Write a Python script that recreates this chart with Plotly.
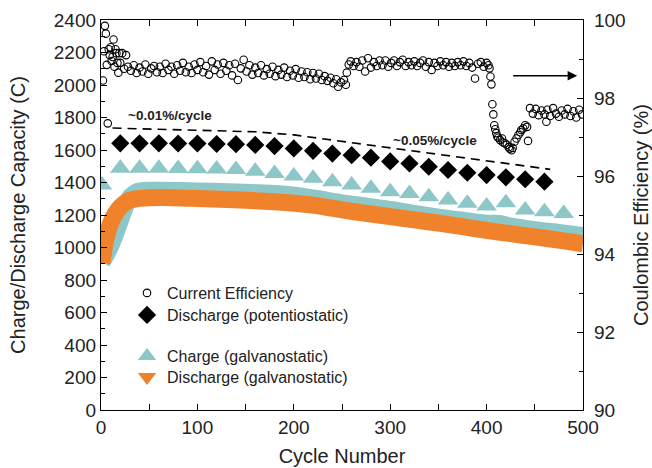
import plotly.graph_objects as go

# ---------------- data ----------------
# Coulombic (current) efficiency, % (right axis)
eff_cycles = [2, 3, 4, 5, 6, 7, 8, 9, 10, 11, 12, 13, 14, 15, 16, 17, 18, 19, 20, 22, 24, 26, 28,
              31, 34, 37, 40, 43, 46, 49, 52, 55, 58, 61, 64, 67, 70, 73, 76, 79, 82, 85, 88, 91, 94,
              97, 100, 103, 106, 109, 112, 115, 118, 121, 124, 127, 130, 133, 136, 139, 142, 145, 148,
              151, 154, 157, 160, 163, 166, 169, 172, 175, 178, 181, 184, 187, 190, 193, 196, 199, 202,
              205, 208, 211, 214, 217, 220, 223, 226, 229,
              232, 235, 238, 241, 244, 246, 249, 252, 254, 255, 257,
              259, 262, 265, 268, 271, 274, 277, 280, 283, 286, 289, 292, 295, 298, 301, 304, 307, 310,
              313, 316, 319, 322, 325, 328, 331, 334, 337, 340, 343, 346, 349, 352, 355, 358, 361, 364,
              367, 370, 373, 376, 379, 382, 385, 388, 391, 394, 397, 400,
              402, 403, 404, 405, 406, 407, 408, 409, 410, 411, 412, 414, 416, 417, 419, 421, 423, 424,
              426, 427, 429, 431, 433, 435, 436, 438, 440, 442, 443,
              445, 448, 451, 454, 457, 460, 462, 463, 466, 469, 472, 475, 478, 481, 484, 487, 490, 493,
              496, 499]
eff_values = [98.45, 99.20, 99.85, 99.65, 98.85, 97.35, 99.25, 99.10, 99.30, 98.95, 99.05, 99.50, 98.80,
              99.25, 99.15, 98.90, 98.65, 99.15, 98.90, 99.15, 98.75, 99.10, 98.80,
              98.70, 98.84, 98.64, 98.78, 98.68, 98.86, 98.62, 98.76, 98.82, 98.66, 98.80, 98.64, 98.88,
              98.72, 98.80, 98.62, 98.84, 98.70, 98.90, 98.66, 98.80, 98.64, 98.86, 98.72, 98.92, 98.66,
              98.82, 98.60, 98.94, 98.72, 98.86, 98.62, 98.90, 98.70, 98.84, 98.58, 98.88, 98.46, 98.76,
              98.98, 98.68, 98.84, 98.60, 98.78, 98.64, 98.84, 98.58, 98.74, 98.62, 98.80, 98.56, 98.72,
              98.60, 98.78, 98.54, 98.70, 98.58, 98.74, 98.52, 98.68, 98.54, 98.66, 98.48, 98.64, 98.50,
              98.62, 98.46,
              98.56, 98.44, 98.52, 98.38, 98.48, 98.29, 98.40, 98.46, 98.34, 98.65, 98.86,
              98.94, 98.82, 98.92, 98.80, 98.96, 98.68, 99.02, 98.78, 98.92, 98.82, 98.96, 98.84, 98.96,
              98.80, 98.90, 98.96, 98.82, 98.92, 98.98, 98.82, 98.92, 98.84, 98.94, 98.82, 98.90, 98.96,
              98.80, 98.92, 98.72, 98.90, 98.82, 98.94, 98.84, 98.92, 98.80, 98.90, 98.82, 98.92, 98.84,
              98.94, 98.82, 98.90, 98.78, 98.50, 98.88, 98.92, 98.80, 98.90,
              98.84, 98.76, 98.55, 98.35, 97.84, 97.58, 97.30, 97.20, 97.10, 97.02, 96.98, 96.92, 96.96,
              96.86, 96.84, 96.80, 96.74, 96.70, 96.66, 96.72, 96.88, 96.96, 97.05, 97.12, 97.18, 97.22,
              97.30, 97.26, 96.90,
              97.74, 97.60, 97.72, 97.56, 97.68, 97.58, 97.39, 97.70, 97.54, 97.74, 97.60, 97.52, 97.68,
              97.58, 97.72, 97.54, 97.66, 97.50, 97.70, 97.58]

# Discharge capacity (potentiostatic), C
pot_cycles = [20, 40, 60, 80, 100, 120, 140, 160, 180, 200, 220, 240, 260, 280, 300, 320, 340, 360,
              380, 400, 420, 440, 460]
pot_discharge = [1641, 1641, 1641, 1640, 1640, 1637, 1636, 1631, 1624, 1610, 1595, 1578, 1568, 1553,
                 1530, 1517, 1497, 1477, 1460, 1446, 1432, 1420, 1405]

# Charge capacity (galvanostatic), large markers, C
gal_cycles = [1, 20, 40, 60, 80, 100, 120, 140, 160, 180, 200, 220, 240, 260, 280, 300, 320, 340, 360,
              380, 400, 420, 440, 460, 480]
gal_charge = [1385, 1487, 1487, 1487, 1486, 1485, 1483, 1480, 1470, 1456, 1440, 1426, 1405, 1385, 1364,
              1343, 1333, 1313, 1292, 1272, 1255, 1275, 1231, 1220, 1210]

# Continuous galvanostatic bands (every cycle in the original), C
band_charge_cycles = [1, 6, 12, 18, 24, 30, 38, 50, 63, 100, 132, 170, 201, 225, 250, 275, 300, 325,
                      352, 375, 400, 415, 421, 450, 475, 500]
band_charge = [910, 960, 1035, 1130, 1230, 1310, 1345, 1352, 1353, 1348, 1343, 1335, 1322, 1300, 1275,
               1255, 1235, 1210, 1185, 1168, 1150, 1147, 1137, 1110, 1093, 1074]
band_dis_cycles = [1, 3, 6, 10, 15, 21, 28, 40, 63, 100, 132, 170, 201, 230, 250, 275, 300, 325, 350,
                   375, 400, 425, 450, 475, 500]
band_discharge = [905, 985, 1075, 1150, 1210, 1255, 1287, 1302, 1308, 1302, 1295, 1285, 1272, 1252,
                  1231, 1210, 1190, 1170, 1150, 1128, 1105, 1085, 1065, 1045, 1022]

# Guide line for fade rate
guide_cycles = [12, 160, 200, 466]
guide_values = [1735, 1712, 1693, 1481]

FONT = "Liberation Sans, Arial, sans-serif"
TEAL = "#8ec7c7"
ORANGE = "#f0822c"
TXT = "#222"

fig = go.Figure()

fig.add_trace(go.Scatter(x=band_charge_cycles, y=band_charge, mode="lines",
                         line=dict(color=TEAL, width=17, shape="spline", smoothing=0.6),
                         showlegend=False, hoverinfo="skip"))
fig.add_trace(go.Scatter(x=band_dis_cycles, y=band_discharge, mode="lines",
                         line=dict(color=ORANGE, width=17, shape="spline", smoothing=0.6),
                         showlegend=False, hoverinfo="skip"))
fig.add_trace(go.Scatter(x=guide_cycles, y=guide_values, mode="lines",
                         line=dict(color="black", width=1.6, dash="9px,6px"), showlegend=False))

fig.add_trace(go.Scatter(x=gal_cycles, y=gal_charge, mode="markers", name="Charge (galvanostatic)",
                         marker=dict(symbol="triangle-up", size=18, color=TEAL), legend="legend3"))
fig.add_trace(go.Scatter(x=[None], y=[None], mode="markers", name="Discharge (galvanostatic)",
                         marker=dict(symbol="triangle-down", size=18, color=ORANGE), legend="legend4"))

fig.add_trace(go.Scatter(x=eff_cycles, y=eff_values, mode="markers", name="Current Efficiency",
                         yaxis="y2",
                         marker=dict(symbol="circle-open", size=7.5, color="black",
                                     line=dict(width=1.1, color="black")),
                         legend="legend"))
fig.add_trace(go.Scatter(x=pot_cycles, y=pot_discharge, mode="markers", name="Discharge (potentiostatic)",
                         marker=dict(symbol="diamond", size=14, color="black"), legend="legend2"))

axis_common = dict(showgrid=False, zeroline=False, showline=True, linecolor="black", linewidth=1.3,
                   ticks="inside", tickcolor="black", tickwidth=1.2, ticklen=6, automargin=False,
                   tickfont=dict(family=FONT, size=19, color=TXT))


def leg(ytop):
    return dict(x=0.054, y=ytop, xanchor="left", yanchor="top", bgcolor="rgba(0,0,0,0)",
                font=dict(family=FONT, size=16, color=TXT))


fig.update_layout(
    width=652, height=468,
    margin=dict(l=101, r=69, t=20, b=58),
    paper_bgcolor="white", plot_bgcolor="white",
    font=dict(family=FONT, color=TXT),
    xaxis=dict(range=[0, 500], tickvals=[0, 100, 200, 300, 400, 500], mirror="allticks",
               minor=dict(dtick=50, ticks="inside", ticklen=3.5, tickcolor="black"),
               title=dict(text="Cycle Number", font=dict(family=FONT, size=20, color=TXT), standoff=12),
               **axis_common),
    yaxis=dict(range=[0, 2400], tickvals=list(range(0, 2401, 200)),
               minor=dict(dtick=100, ticks="inside", ticklen=3.5, tickcolor="black"),
               title=dict(text="Charge/Discharge Capacity (C)", font=dict(family=FONT, size=20, color=TXT),
                          standoff=22),
               **axis_common),
    yaxis2=dict(range=[90, 100], tickvals=[90, 92, 94, 96, 98, 100], overlaying="y", side="right",
                minor=dict(dtick=1, ticks="inside", ticklen=3.5, tickcolor="black"),
                ticklabelstandoff=6,
                title=dict(text="Coulombic Efficiency (%)", font=dict(family=FONT, size=20, color=TXT),
                           standoff=9),
                **axis_common),
    legend=leg(0.3436), legend2=leg(0.2872), legend3=leg(0.1821), legend4=leg(0.1282),
    showlegend=True,
)

fig.add_annotation(x=72, y=1815, xref="x", yref="y", text="<b>~0.01%/cycle</b>", showarrow=False,
                   font=dict(family=FONT, size=13.5, color=TXT))
fig.add_annotation(x=346, y=1661, xref="x", yref="y", text="<b>~0.05%/cycle</b>", showarrow=False,
                   font=dict(family=FONT, size=13.5, color=TXT))
fig.add_annotation(x=494, y=98.57, xref="x", yref="y2", ax=426, ay=98.57, axref="x", ayref="y2",
                   text="", showarrow=True, arrowhead=2, arrowsize=1.2, arrowwidth=1.6, arrowcolor="black")

fig.write_html("out.html", config={"displayModeBar": False},
               post_script="document.body.style.margin='0';")
